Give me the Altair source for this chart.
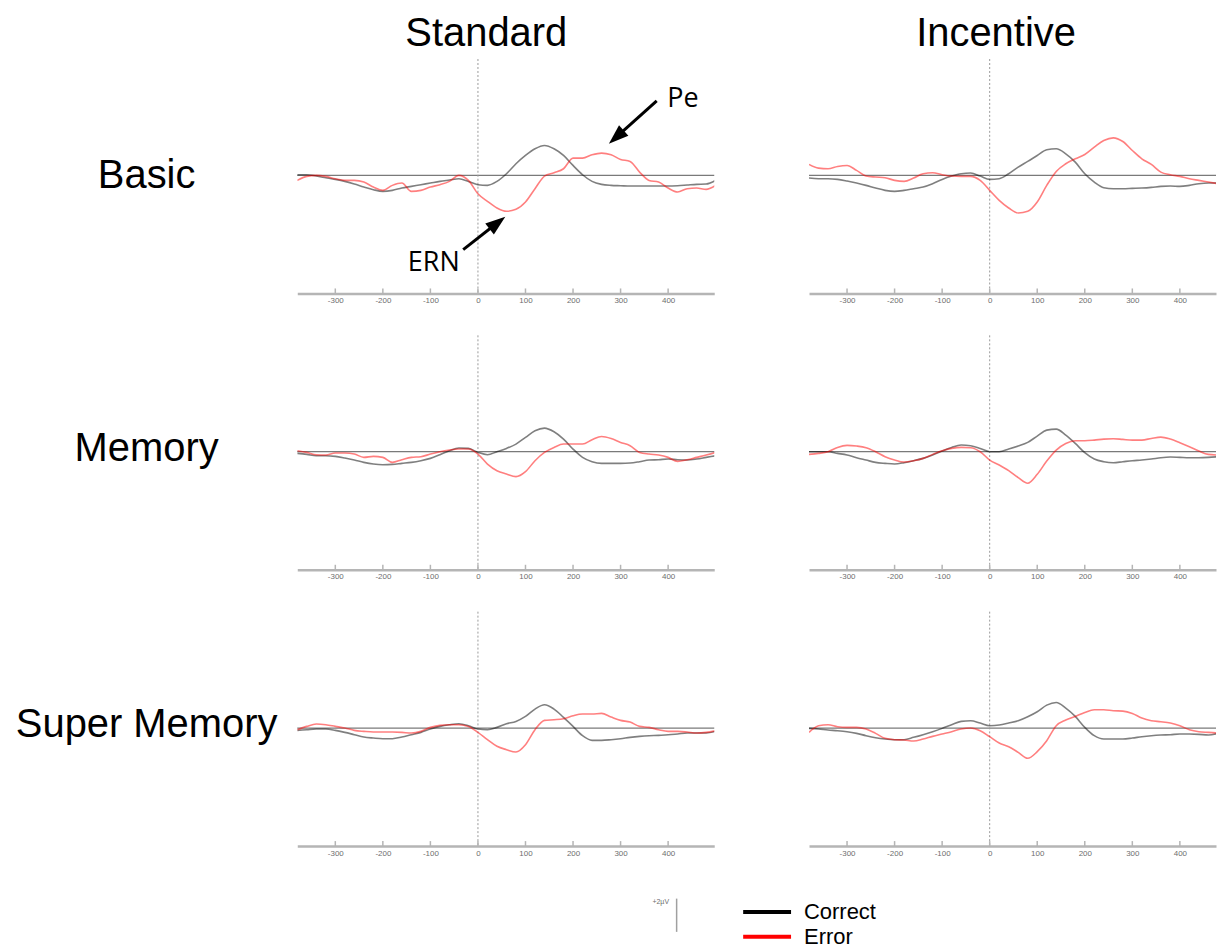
import altair as alt
import pandas as pd

# Sample times (ms, response-locked), 20 ms apart
times = list(range(-380, 501, 20))

conditions = ["Standard", "Incentive"]
tasks = ["Basic", "Memory", "Super Memory"]
responses = ["Correct", "Error"]

# Grand-average waveforms (µV). Incentive panels stop at 480 ms.
std_basic_correct = [0.04, 0.04, -0.04, -0.14, -0.24, -0.36, -0.52, -0.7, -0.86, -0.96,
                     -0.9, -0.76, -0.66, -0.56, -0.46, -0.36, -0.28, -0.2, -0.36, -0.56,
                     -0.6, -0.36, 0.1, 0.7, 1.2, 1.6, 1.8, 1.6, 1.2, 0.6,
                     0.04, -0.36, -0.54, -0.6, -0.62, -0.64, -0.64, -0.64, -0.64, -0.64,
                     -0.62, -0.58, -0.54, -0.52, -0.3]
std_basic_error = [-0.3, -0.06, 0.0, -0.06, -0.2, -0.3, -0.3, -0.4, -0.7, -0.9,
                   -0.6, -0.46, -0.96, -0.9, -0.7, -0.56, -0.36, 0.0, -0.3, -1.1,
                   -1.56, -1.96, -2.16, -2.04, -1.6, -0.8, -0.04, 0.16, 0.4, 1.04,
                   1.04, 1.24, 1.34, 1.24, 0.96, 0.84, 0.2, -0.3, -0.4, -0.76,
                   -1.0, -0.8, -0.76, -0.84, -0.6]
inc_basic_correct = [-0.16, -0.2, -0.2, -0.24, -0.34, -0.46, -0.6, -0.76, -0.9, -0.96,
                     -0.9, -0.8, -0.7, -0.5, -0.24, -0.04, 0.1, 0.14, -0.04, -0.24,
                     -0.2, 0.1, 0.5, 0.84, 1.2, 1.54, 1.6, 1.3, 0.8, 0.1,
                     -0.4, -0.74, -0.8, -0.8, -0.78, -0.76, -0.72, -0.66, -0.64, -0.66,
                     -0.6, -0.5, -0.46, -0.46]
inc_basic_error = [0.66, 0.44, 0.4, 0.54, 0.6, 0.3, -0.04, -0.1, -0.14, -0.3,
                   -0.36, -0.16, 0.1, 0.16, 0.04, -0.04, -0.06, -0.06, -0.3, -0.9,
                   -1.5, -1.96, -2.26, -2.16, -1.6, -0.6, 0.24, 0.7, 1.0, 1.26,
                   1.7, 2.1, 2.26, 2.04, 1.5, 1.0, 0.66, 0.2, 0.04, -0.06,
                   -0.2, -0.3, -0.4, -0.5]
std_memory_correct = [-0.1, -0.16, -0.24, -0.24, -0.28, -0.38, -0.5, -0.64, -0.74, -0.78,
                      -0.76, -0.7, -0.64, -0.54, -0.4, -0.18, 0.06, 0.22, 0.2, -0.04,
                      -0.18, 0.0, 0.2, 0.46, 0.86, 1.26, 1.42, 1.2, 0.76, 0.16,
                      -0.34, -0.6, -0.7, -0.7, -0.7, -0.68, -0.6, -0.5, -0.48, -0.44,
                      -0.48, -0.5, -0.44, -0.34, -0.24]
std_memory_error = [0.06, -0.04, -0.18, -0.2, -0.08, -0.08, -0.14, -0.34, -0.28, -0.34,
                    -0.64, -0.48, -0.34, -0.3, -0.14, 0.0, 0.1, 0.16, 0.16, -0.14,
                    -0.74, -1.14, -1.34, -1.5, -1.2, -0.54, -0.04, 0.26, 0.46, 0.46,
                    0.46, 0.72, 0.92, 0.8, 0.56, 0.36, -0.04, -0.14, -0.2, -0.34,
                    -0.58, -0.48, -0.34, -0.2, -0.04]
inc_memory_correct = [0.0, 0.0, 0.0, -0.1, -0.2, -0.36, -0.5, -0.64, -0.7, -0.74,
                      -0.66, -0.54, -0.4, -0.2, 0.04, 0.26, 0.4, 0.36, 0.2, 0.0,
                      0.0, 0.16, 0.34, 0.56, 0.94, 1.3, 1.36, 1.0, 0.5, -0.06,
                      -0.44, -0.6, -0.66, -0.6, -0.54, -0.5, -0.44, -0.36, -0.32, -0.34,
                      -0.36, -0.36, -0.34, -0.3]
inc_memory_error = [-0.16, -0.1, 0.0, 0.26, 0.38, 0.34, 0.24, 0.0, -0.3, -0.5,
                    -0.62, -0.54, -0.4, -0.16, 0.06, 0.2, 0.26, 0.24, 0.0, -0.5,
                    -0.8, -1.14, -1.56, -1.9, -1.36, -0.56, 0.1, 0.5, 0.66, 0.66,
                    0.7, 0.76, 0.78, 0.74, 0.7, 0.7, 0.8, 0.88, 0.76, 0.54,
                    0.3, 0.04, -0.16, -0.2]
std_super_correct = [-0.14, -0.1, -0.06, -0.06, -0.14, -0.26, -0.4, -0.54, -0.6, -0.64,
                     -0.64, -0.54, -0.4, -0.26, -0.06, 0.1, 0.2, 0.26, 0.14, -0.06,
                     -0.1, 0.04, 0.26, 0.4, 0.7, 1.14, 1.4, 1.14, 0.64, 0.1,
                     -0.46, -0.74, -0.74, -0.7, -0.64, -0.56, -0.5, -0.46, -0.44, -0.4,
                     -0.36, -0.3, -0.3, -0.3, -0.2]
std_super_error = [-0.1, 0.1, 0.24, 0.2, 0.1, 0.0, -0.14, -0.2, -0.24, -0.24,
                   -0.24, -0.26, -0.3, -0.2, 0.04, 0.16, 0.2, 0.2, 0.1, -0.26,
                   -0.7, -1.1, -1.3, -1.44, -1.0, -0.1, 0.46, 0.5, 0.56, 0.74,
                   0.84, 0.84, 0.88, 0.66, 0.46, 0.36, 0.1, 0.04, -0.1, -0.2,
                   -0.2, -0.24, -0.3, -0.26, -0.16]
inc_super_correct = [-0.02, -0.06, -0.12, -0.16, -0.22, -0.32, -0.46, -0.58, -0.66, -0.7,
                     -0.7, -0.56, -0.4, -0.22, -0.02, 0.2, 0.4, 0.44, 0.3, 0.14,
                     0.18, 0.3, 0.44, 0.68, 0.98, 1.38, 1.54, 1.2, 0.7, 0.04,
                     -0.46, -0.66, -0.66, -0.66, -0.6, -0.52, -0.46, -0.42, -0.4, -0.36,
                     -0.36, -0.38, -0.42, -0.32]
inc_super_error = [-0.26, 0.14, 0.2, 0.08, 0.04, 0.04, -0.06, -0.32, -0.62, -0.7,
                   -0.72, -0.78, -0.66, -0.5, -0.36, -0.22, -0.06, 0.0, -0.16, -0.52,
                   -0.9, -1.12, -1.46, -1.82, -1.42, -0.76, 0.14, 0.48, 0.7, 0.94,
                   1.1, 1.1, 1.04, 1.02, 0.88, 0.6, 0.44, 0.38, 0.3, 0.14,
                   -0.1, -0.22, -0.26, -0.3]

waves = {
    ("Basic", "Standard"): (std_basic_correct, std_basic_error),
    ("Basic", "Incentive"): (inc_basic_correct, inc_basic_error),
    ("Memory", "Standard"): (std_memory_correct, std_memory_error),
    ("Memory", "Incentive"): (inc_memory_correct, inc_memory_error),
    ("Super Memory", "Standard"): (std_super_correct, std_super_error),
    ("Super Memory", "Incentive"): (inc_super_correct, inc_super_error),
}

# Component call-outs in the Standard / Basic panel
note_labels = ["Pe", "ERN"]
note_text_t = [431, -93]
note_text_v = [4.6, -5.24]
arrow_from_t = [376, -31]
arrow_from_v = [4.48, -4.46]
arrow_to_t = [291, 41]
arrow_to_v = [2.3, -2.85]
arrow_angle = [228, 52]

# Calibration bar
scale_bar_t = [420]
scale_bar_lo = [0.0]
scale_bar_hi = [2.0]
scale_bar_label = ["+2µV"]

tick_values = [-300, -200, -100, 0, 100, 200, 300, 400]

SANS = "Liberation Sans, Arial, sans-serif"
PANEL_H = 235
LABEL_W = 297
GAP = 93
Y_DOMAIN = [-7.1, 7.0]
X_DOMAIN = {"Standard": [-380, 497], "Incentive": [-380, 476]}
PANEL_W = {"Standard": 418, "Incentive": 408}


def x_enc(field, domain):
    return alt.X(
        field,
        type="quantitative",
        scale=alt.Scale(domain=domain, nice=False, zero=False),
        axis=alt.Axis(values=tick_values, ticks=False, grid=False, title=None,
                      domainColor="#b5b5b5", domainWidth=2.5, labelFontSize=8,
                      labelColor="#6e6e6e", labelFont=SANS, labelPadding=3,
                      labelFlush=False, labelExpr="'' + datum.value"),
    )


def y_enc(field):
    return alt.Y(field, type="quantitative",
                 scale=alt.Scale(domain=Y_DOMAIN, nice=False, zero=False), axis=None)


# Response legend: a long horizontal stroke drawn in a 24 px symbol cell
response_legend = alt.Legend(
    orient="none", legendX=755, legendY=899, title=None,
    symbolType="M-2,0L2,0", symbolSize=576, symbolStrokeWidth=4, symbolOpacity=1,
    labelFontSize=22, labelFont=SANS, labelColor="black", labelOffset=23,
    rowPadding=0, padding=0, labelLimit=0,
)


def panel(task, cond):
    correct, error = waves[(task, cond)]
    n = len(correct)
    dom = X_DOMAIN[cond]
    df = pd.DataFrame({
        "t": times[:n] * 2,
        "v": correct + error,
        "resp": ["Correct"] * n + ["Error"] * n,
    })
    zero = alt.Chart(pd.DataFrame({"z": [0]})).mark_rule(
        color="#7a7a7a", strokeWidth=1.3).encode(y=y_enc("z"))
    onset = alt.Chart(pd.DataFrame({"z": [0]})).mark_rule(
        color="#9a9a9a", strokeWidth=1, strokeDash=[2, 2]).encode(x=x_enc("z", dom))
    ticks = alt.Chart(pd.DataFrame({"tick": tick_values})).mark_rule(
        color="#b5b5b5", strokeWidth=1.5).encode(
        x=x_enc("tick", dom), y=alt.value(PANEL_H), y2=alt.value(PANEL_H - 5))
    curves = alt.Chart(df).mark_line(
        strokeWidth=1.6, opacity=0.5, interpolate="monotone", clip=True).encode(
        x=x_enc("t", dom), y=y_enc("v"),
        color=alt.Color("resp:N", scale=alt.Scale(domain=responses, range=["#000000", "#ff0000"]),
                        legend=response_legend),
    )
    layers = [zero, onset, ticks, curves]
    if task == "Basic" and cond == "Standard":
        notes = pd.DataFrame({
            "label": note_labels, "tt": note_text_t, "vt": note_text_v,
            "t0": arrow_from_t, "v0": arrow_from_v, "t1": arrow_to_t, "v1": arrow_to_v,
            "angle": arrow_angle,
        })
        shafts = alt.Chart(notes).mark_rule(color="black", strokeWidth=3).encode(
            x=x_enc("t0", dom), x2="t1:Q", y=y_enc("v0"), y2="v1:Q")
        heads = alt.Chart(notes).mark_point(
            shape="M0,-1L0.7,1L-0.7,1Z", filled=True, color="black", opacity=1, size=400).encode(
            x=x_enc("t1", dom), y=y_enc("v1"), angle=alt.Angle("angle:Q", scale=None))
        words = alt.Chart(notes).mark_text(
            font="Open Sans", fontSize=27, color="black", baseline="middle", align="center").encode(
            x=x_enc("tt", dom), y=y_enc("vt"), text="label:N")
        layers += [shafts, heads, words]
    return alt.layer(*layers).properties(width=PANEL_W[cond], height=PANEL_H)


def blank(w, h):
    return alt.Chart(pd.DataFrame({"s": [""]})).mark_text().encode(
        text="s:N").properties(width=w, height=h)


def row_label(task, baseline_y):
    return alt.Chart(pd.DataFrame({"task": [task]})).mark_text(
        font=SANS, fontSize=40, color="black", align="center", baseline="alphabetic").encode(
        text="task:N", x=alt.value(147), y=alt.value(baseline_y)).properties(
        width=LABEL_W, height=PANEL_H)


def column_head(cond):
    return alt.Chart(pd.DataFrame({"cond": [cond]})).mark_text(
        font=SANS, fontSize=40, color="black", align="center", baseline="alphabetic").encode(
        text="cond:N", x=alt.value(190.5), y=alt.value(45)).properties(
        width=PANEL_W[cond], height=57)


header = alt.hconcat(
    blank(LABEL_W, 57),
    alt.hconcat(*[column_head(c) for c in conditions], spacing=GAP),
    spacing=0,
)

label_baselines = {"Basic": 129, "Memory": 126, "Super Memory": 126}
rows = [
    alt.hconcat(row_label(task, label_baselines[task]),
                alt.hconcat(*[panel(task, c) for c in conditions], spacing=GAP),
                spacing=0)
    for task in tasks
]

# Calibration bar uses the same µV-per-pixel as the panels
BOTTOM_H = 50
BAR_BASE = 5
px_per_uv = PANEL_H / (Y_DOMAIN[1] - Y_DOMAIN[0])
bar_df = pd.DataFrame({"t": scale_bar_t, "lo": scale_bar_lo, "hi": scale_bar_hi,
                       "label": scale_bar_label, "tl": [404]})
bar_y = alt.Scale(domain=[-BAR_BASE / px_per_uv, (BOTTOM_H - BAR_BASE) / px_per_uv],
                  nice=False, zero=False)
bar_x = alt.Scale(domain=X_DOMAIN["Standard"], nice=False, zero=False)
bar = alt.Chart(bar_df).mark_rule(color="#a0a0a0", strokeWidth=1.5).encode(
    x=alt.X("t:Q", scale=bar_x, axis=None),
    y=alt.Y("lo:Q", scale=bar_y, axis=None), y2="hi:Q")
bar_text = alt.Chart(bar_df).mark_text(
    font=SANS, fontSize=7, color="#6e6e6e", align="right", baseline="top", dy=-1).encode(
    x=alt.X("tl:Q", scale=bar_x, axis=None),
    y=alt.Y("hi:Q", scale=bar_y, axis=None), text="label:N")
bottom = alt.hconcat(
    blank(LABEL_W, BOTTOM_H),
    alt.layer(bar, bar_text).properties(width=PANEL_W["Standard"], height=BOTTOM_H),
    spacing=0,
)

chart = alt.vconcat(
    header,
    alt.vconcat(*rows, bottom, spacing=30),
    spacing=0,
).properties(padding=0, background="white").configure_view(stroke=None)

chart.save("out.html", embed_options={"renderer": "svg", "actions": False})
